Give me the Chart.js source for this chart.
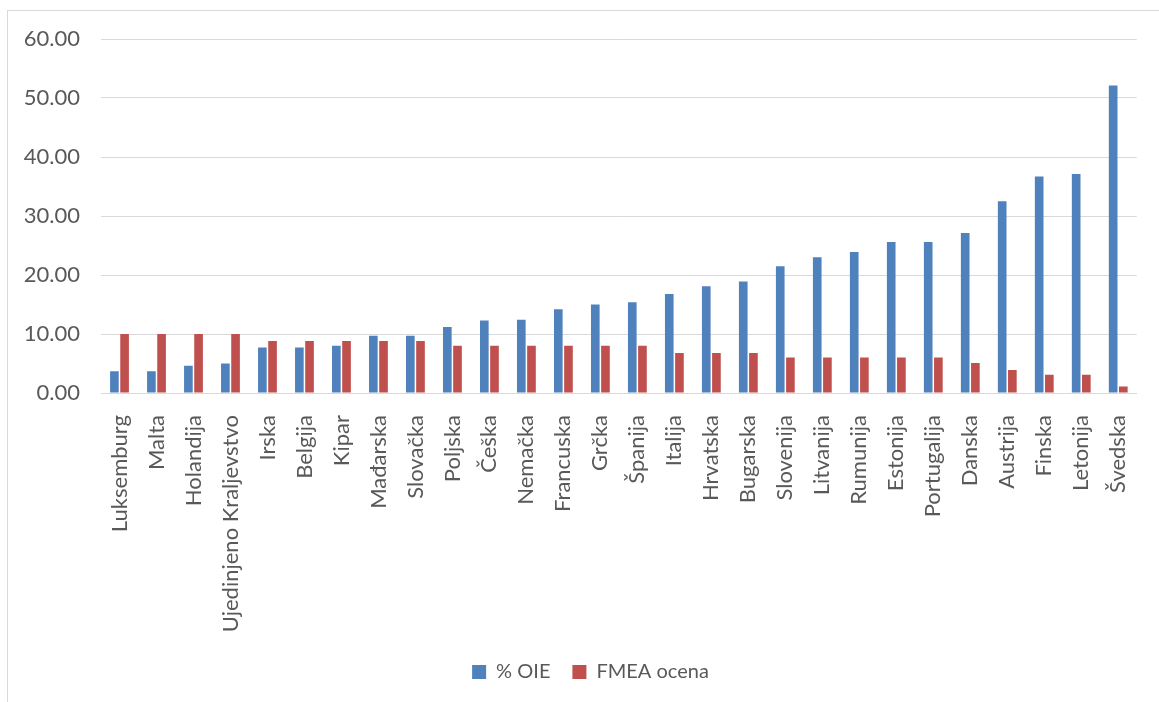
<!DOCTYPE html>
<html>
<head>
<meta charset="utf-8">
<script src="https://cdn.jsdelivr.net/npm/chart.js@4"></script>
<style>
    html, body { margin: 0; padding: 0; background: #fff; }
    .frame {
        position: absolute; left: 7px; top: 10px; right: -5px; bottom: -5px;
        border-left: 1px solid #d9d9d9; border-top: 1px solid #d9d9d9;
    }
    .chart-wrap { position: absolute; left: 0; top: 0; width: 1159px; height: 702px; }
</style>
</head>
<body>
<div class="frame"></div>
<div class="chart-wrap"><canvas id="oieChart"></canvas></div>
<script>
// kategorije (zemlje)
const countries = ['Luksemburg', 'Malta', 'Holandija', 'Ujedinjeno Kraljevstvo', 'Irska', 'Belgija',
    'Kipar', 'Mađarska', 'Slovačka', 'Poljska', 'Češka', 'Nemačka', 'Francuska', 'Grčka',
    'Španija', 'Italija', 'Hrvatska', 'Bugarska', 'Slovenija', 'Litvanija', 'Rumunija',
    'Estonija', 'Portugalija', 'Danska', 'Austrija', 'Finska', 'Letonija', 'Švedska'];

const oieShare = [3.7, 3.7, 4.6, 5.0, 7.7, 7.7, 8.0, 9.7, 9.7, 11.2, 12.3, 12.4, 14.2, 15.0,
    15.4, 16.8, 18.1, 18.9, 21.5, 23.0, 23.9, 25.6, 25.6, 27.1, 32.5, 36.7, 37.1, 52.1];

const fmeaScore = [10, 10, 10, 10, 8.8, 8.8, 8.8, 8.8, 8.8, 8, 8, 8, 8, 8,
    8, 6.8, 6.8, 6.8, 6, 6, 6, 6, 6, 5.1, 3.9, 3.1, 3.1, 1.1];

const yTicks = [0, 10, 20, 30, 40, 50, 60];

const textColor = '#595959';
const gridColor = '#d9d9d9';
const fontFamily = 'Lato, "Liberation Sans", sans-serif';

// legenda je u originalu malo desno od sredine
const shiftLegend = {
    id: 'shiftLegend',
    afterLayout(chart) {
        if (chart.legend) chart.legend.left += 42;
    }
};

new Chart(document.getElementById('oieChart'), {
    type: 'bar',
    data: {
        labels: countries,
        datasets: [
            {
                label: '% OIE',
                data: oieShare,
                backgroundColor: '#4f81bd',
                categoryPercentage: 0.55,
                barPercentage: 0.85
            },
            {
                label: 'FMEA ocena',
                data: fmeaScore,
                backgroundColor: '#c0504d',
                categoryPercentage: 0.55,
                barPercentage: 0.85
            }
        ]
    },
    plugins: [shiftLegend],
    options: {
        responsive: true,
        maintainAspectRatio: false,
        animation: false,
        layout: {
            padding: { left: 0, right: 20, top: 39, bottom: 10 }
        },
        plugins: {
            legend: {
                position: 'bottom',
                labels: {
                    color: textColor,
                    font: { family: fontFamily, size: 20 },
                    boxWidth: 14,
                    boxHeight: 14,
                    padding: 22
                }
            },
            tooltip: { enabled: false }
        },
        scales: {
            x: {
                grid: { display: false },
                border: { color: gridColor },
                ticks: {
                    color: textColor,
                    font: { family: fontFamily, size: 22 },
                    minRotation: 90,
                    maxRotation: 90,
                    autoSkip: false,
                    padding: 14
                },
                afterFit: function(scale) { scale.height = 247; }
            },
            y: {
                min: 0,
                max: 60,
                afterBuildTicks: function(scale) {
                    scale.ticks = yTicks.map(v => ({ value: v }));
                },
                border: { display: false },
                grid: { color: gridColor, drawTicks: false },
                ticks: {
                    color: textColor,
                    font: { family: fontFamily, size: 22 },
                    padding: 21,
                    callback: function(value) { return value.toFixed(2); }
                },
                afterFit: function(scale) { scale.width = 101; }
            }
        }
    }
});
</script>
</body>
</html>
